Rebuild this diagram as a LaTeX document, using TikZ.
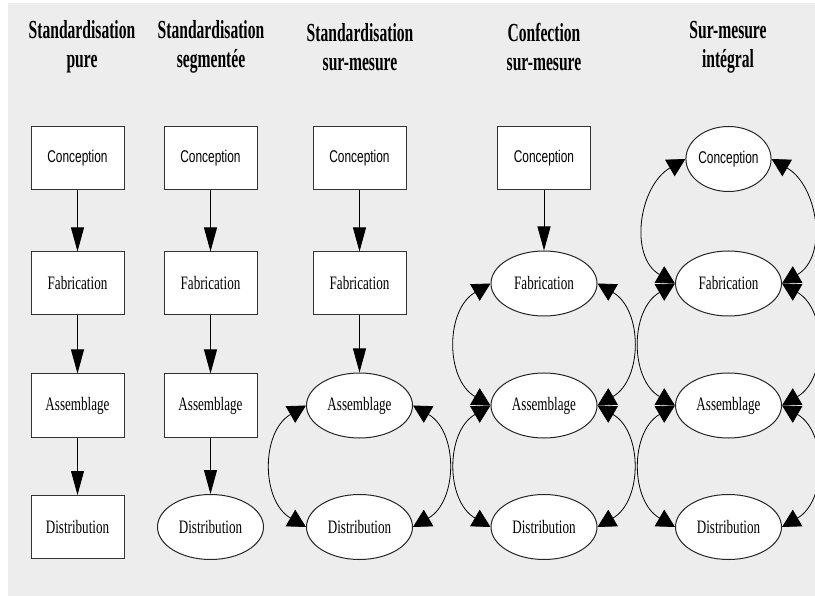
\documentclass[tikz,border=0pt]{standalone}
\usepackage{fontspec}
\setmainfont{Liberation Serif}
\newfontfamily\lsans{Liberation Sans}
\usetikzlibrary{shapes.geometric,arrows.meta}

% narrow lettering used throughout
\newcommand\tsq[1]{\scalebox{0.6}[1]{#1}}
\newcommand\lblsans[1]{{\lsans\fontsize{17}{20}\selectfont\scalebox{0.7}[1]{#1}}}
\newcommand\lblserif[1]{{\fontsize{19}{22}\selectfont\scalebox{0.69}[1]{#1}}}

\begin{document}
\begin{tikzpicture}[x=1pt,y=1pt,
  stagebox/.style={draw=black!80, line width=1pt, fill=white,
    minimum width=93pt, minimum height=63pt, inner sep=0pt},
  stageoval/.style={ellipse, draw=black!85, line width=1pt, fill=white,
    minimum width=106pt, minimum height=65pt, inner sep=0pt},
  flow/.style={line width=0.8pt, -{Triangle[length=24pt,width=13pt]}},
  twoway/.style={line width=0.8pt,
    {Triangle[length=18pt,width=19pt]}-{Triangle[length=18pt,width=19pt]},
    looseness=1.1},
  coltitle/.style={align=center, inner sep=0pt,
    font=\bfseries\fontsize{26}{29}\selectfont}
]
\useasboundingbox (0,0) rectangle (815,-596);
\fill[fill={rgb,255:red,237;green,237;blue,237}] (8,-3) rectangle (815,-596);

% column headings
\node[coltitle] (t1) at (82,-47)  {\tsq{Standardisation}\\\tsq{pure}};
\node[coltitle] (t2) at (211,-47) {\tsq{Standardisation}\\\tsq{segmentée}};
\node[coltitle] (t3) at (360,-47) {\tsq{Standardisation}\\\tsq{sur-mesure}};
\node[coltitle] (t4) at (544,-47) {\tsq{Confection}\\\tsq{sur-mesure}};
\node[coltitle] (t5) at (728,-47) {\tsq{Sur-mesure}\\\tsq{intégral}};

% column 1: standardisation pure
\node[stagebox] (c1c) at (77.5,-158.5) {\lblsans{Conception}};
\node[stagebox] (c1f) at (77.5,-283.5) {\lblserif{Fabrication}};
\node[stagebox] (c1a) at (77.5,-405.5) {\lblserif{Assemblage}};
\node[stagebox] (c1d) at (77.5,-527)   {\lblserif{Distribution}};
\draw[flow] (c1c.south) -- (c1f.north);
\draw[flow] (c1f.south) -- (c1a.north);
\draw[flow] (c1a.south) -- (c1d.north);

% column 2: standardisation segmentée
\node[stagebox]  (c2c) at (210.5,-158.5) {\lblsans{Conception}};
\node[stagebox]  (c2f) at (210.5,-283.5) {\lblserif{Fabrication}};
\node[stagebox]  (c2a) at (210.5,-405.5) {\lblserif{Assemblage}};
\node[stageoval] (c2d) at (210.5,-527)   {\lblserif{Distribution}};
\draw[flow] (c2c.south) -- (c2f.north);
\draw[flow] (c2f.south) -- (c2a.north);
\draw[flow] (c2a.south) -- (c2d.north);

% column 3: standardisation sur-mesure
\node[stagebox]  (c3c) at (359.5,-158.5) {\lblsans{Conception}};
\node[stagebox]  (c3f) at (359.5,-283.5) {\lblserif{Fabrication}};
\node[stageoval] (c3a) at (359.5,-405.5) {\lblserif{Assemblage}};
\node[stageoval] (c3d) at (359.5,-527)   {\lblserif{Distribution}};
\draw[flow] (c3c.south) -- (c3f.north);
\draw[flow] (c3f.south) -- (c3a.north);
\draw[twoway] (c3a.west) to[out=210,in=150] (c3d.west);
\draw[twoway] (c3a.east) to[out=-30,in=30] (c3d.east);

% column 4: confection sur-mesure
\node[stagebox]  (c4c) at (544,-158.5) {\lblsans{Conception}};
\node[stageoval] (c4f) at (544,-283.5) {\lblserif{Fabrication}};
\node[stageoval] (c4a) at (544,-405.5) {\lblserif{Assemblage}};
\node[stageoval] (c4d) at (544,-527)   {\lblserif{Distribution}};
\draw[flow] (c4c.south) -- (c4f.north);
\draw[twoway] (c4f.west) to[out=210,in=150] (c4a.west);
\draw[twoway] (c4f.east) to[out=-30,in=30] (c4a.east);
\draw[twoway] (c4a.west) to[out=210,in=150] (c4d.west);
\draw[twoway] (c4a.east) to[out=-30,in=30] (c4d.east);

% column 5: sur-mesure intégral
\node[stageoval, minimum width=81pt] (c5c) at (728.5,-159) {\lblsans{Conception}};
\node[stageoval] (c5f) at (728.5,-283.5) {\lblserif{Fabrication}};
\node[stageoval] (c5a) at (728.5,-405.5) {\lblserif{Assemblage}};
\node[stageoval] (c5d) at (728.5,-527)   {\lblserif{Distribution}};
\draw[twoway] (c5c.west) to[out=210,in=150] (c5f.west);
\draw[twoway] (c5c.east) to[out=-30,in=30] (c5f.east);
\draw[twoway] (c5f.west) to[out=210,in=150] (c5a.west);
\draw[twoway] (c5f.east) to[out=-30,in=30] (c5a.east);
\draw[twoway] (c5a.west) to[out=210,in=150] (c5d.west);
\draw[twoway] (c5a.east) to[out=-30,in=30] (c5d.east);
\end{tikzpicture}
\end{document}
